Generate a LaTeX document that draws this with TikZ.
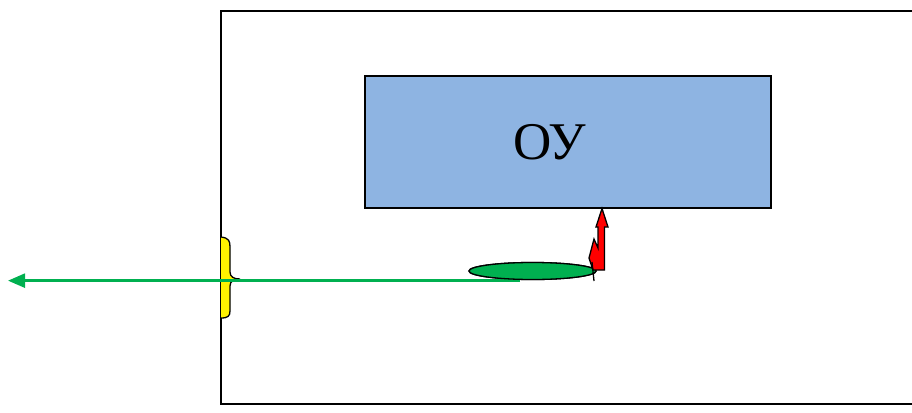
\documentclass[tikz,border=0pt]{standalone}
\usepackage{fontspec}
\setmainfont{Liberation Serif}
\usetikzlibrary{arrows.meta,shapes.geometric,calc}
\definecolor{boxblue}{RGB}{142,180,226}
\definecolor{diskgreen}{RGB}{0,176,80}
\tikzset{
  frame/.style={draw=black,line width=1.6pt},
  oybox/.style={draw=black,line width=1.3pt,fill=boxblue,minimum width=406pt,minimum height=132pt,inner sep=0pt},
  oyfont/.style={font=\fontsize{53}{60}\selectfont,inner sep=0pt},
  disk/.style={ellipse,draw=black,line width=1.3pt,fill=diskgreen,minimum width=127pt,minimum height=17pt,inner sep=0pt},
  outarrow/.style={draw=diskgreen,line width=2.5pt,-{Triangle[length=17pt,width=14pt]}},
  redarrow/.style={draw=black,line width=1.3pt,fill=red,line join=miter}
}
\begin{document}
\begin{tikzpicture}[x=1pt,y=-1pt]
\useasboundingbox (0,0) rectangle (912,412);
% outer frame (open at right edge)
\draw[frame] (915,11) -- (221,11) -- (221,404) -- (915,404);
% blue block
\node[oybox] (oy) at (568,142) {};
\node[oyfont,anchor=base] (oylabel) at (550,159) {ОУ};
% yellow brace
\fill[yellow] (221,237) .. controls (229,238) and (230,241) .. (230,247) -- (230,272)
  .. controls (230,277) and (234,279) .. (240,279)
  .. controls (234,279) and (230,281) .. (230,286) -- (230,311)
  .. controls (230,316) and (228,318) .. (221,318) -- cycle;
\draw[black,line width=1.3pt] (221,237) .. controls (229,238) and (230,241) .. (230,247) -- (230,272)
  .. controls (230,277) and (234,279) .. (240,279)
  .. controls (234,279) and (230,281) .. (230,286) -- (230,311)
  .. controls (230,316) and (228,318) .. (221,318);
% green disk and output arrow
\node[disk] (disk) at (532.5,271) {};
\coordinate (start) at ($(disk.south)+(-13,0.5)$);
\coordinate (out) at (8,280);
\draw[outarrow] (start) -- (start -| out);
\node[disk] at (532.5,271) {};
% red bent arrow
\coordinate (tip) at (602,208.5);
\draw[redarrow] (tip) -- (608,227) -- (604.5,227) -- (604.5,270) -- (593,270) -- (589,258)
  -- (594,239) -- (598,248) -- (598,227) -- (596,227) -- cycle;
\draw[black,line width=1.3pt] (592,262) -- (594,281);
\end{tikzpicture}
\end{document}
